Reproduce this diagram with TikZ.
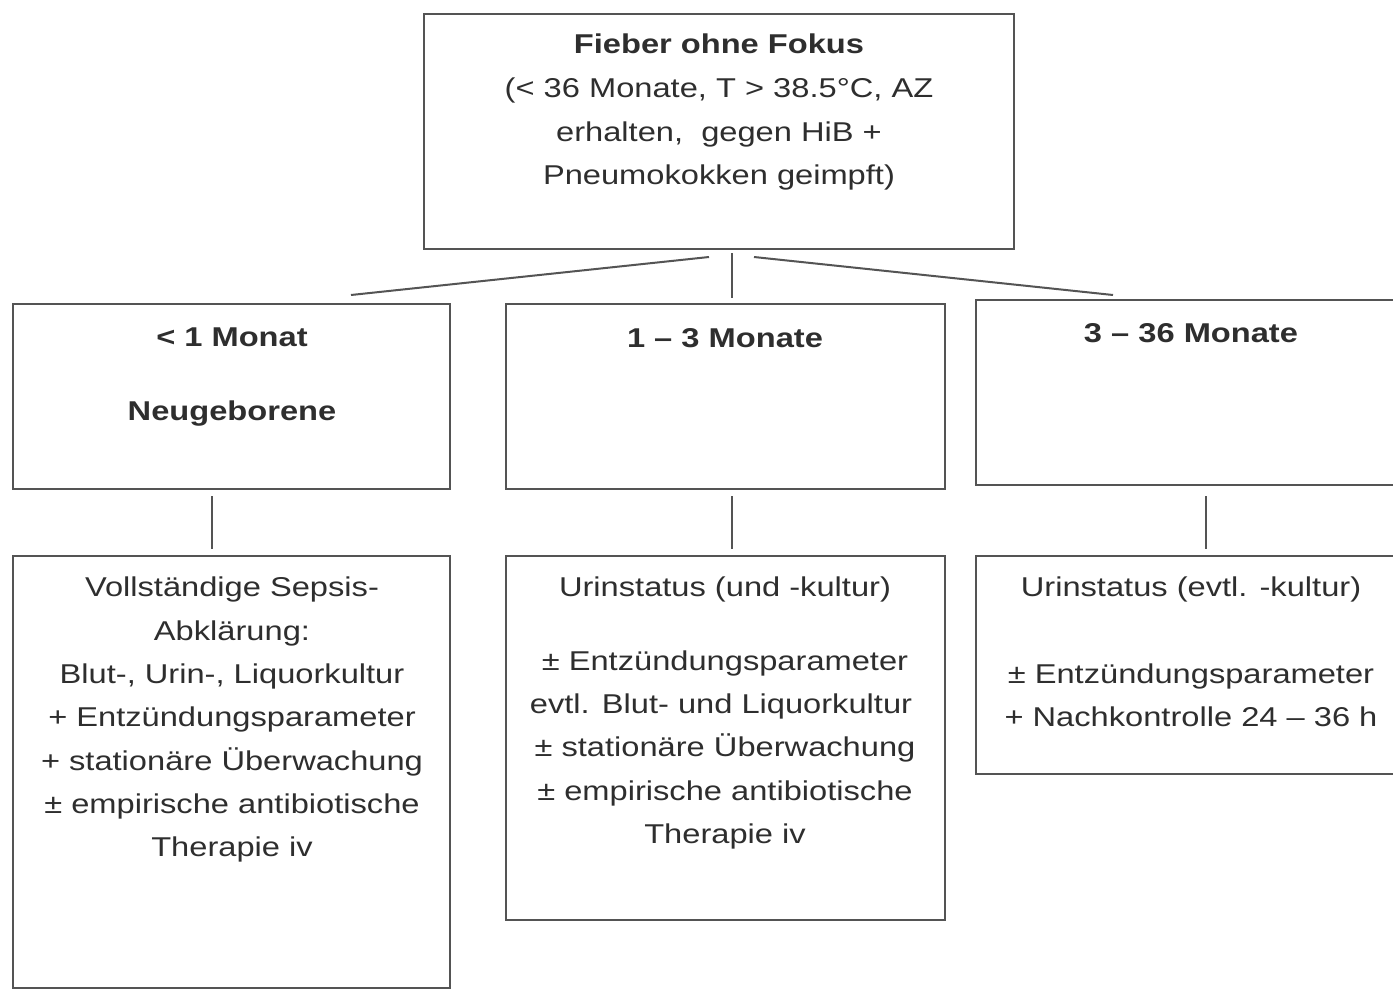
\documentclass[tikz,border=0pt]{standalone}
\usepackage{fontspec}
\setmainfont{Liberation Sans}[FakeStretch=1.2]
\definecolor{textc}{gray}{0.18}
\definecolor{linec}{gray}{0.33}
\newcommand{\fs}{\fontsize{13.6pt}{21.67pt}\selectfont}
\begin{document}
\begin{tikzpicture}[x=0.5pt,y=-0.5pt,
  box/.style={draw=linec, line width=1pt, inner sep=0pt, fill=none},
  conn/.style={draw=linec, line width=1pt},
  txt/.style={text=textc, inner sep=0pt, anchor=base, font=\fs},
  ttl/.style={txt, font=\fs\bfseries}]
\useasboundingbox[fill=white] (0,0) rectangle (1393,1001);

% boxes
\node[box, minimum width=295pt, minimum height=117.5pt] (top) at (719,131.5) {};
\node[box, minimum width=218.5pt, minimum height=92.5pt] (ba) at (231.5,396.5) {};
\node[box, minimum width=219.5pt, minimum height=92.5pt] (bb) at (725.5,396.5) {};
\node[box, minimum width=215pt, minimum height=92.5pt] (bc) at (1191,392.5) {};
\node[box, minimum width=218.5pt, minimum height=216pt] (bd) at (231.5,772) {};
\node[box, minimum width=219.5pt, minimum height=182pt] (be) at (725.5,738) {};
\node[box, minimum width=215pt, minimum height=109pt] (bf) at (1191,665) {};

% connector ends
\coordinate (l1) at (709,257);
\coordinate (l2) at (351,295);
\coordinate (m1) at (732,253);
\coordinate (m2) at (732,298);
\coordinate (r1) at (754,257);
\coordinate (r2) at (1113,295);
\coordinate (a1) at (212,496);
\coordinate (a2) at (212,549);
\coordinate (b1) at (732,496);
\coordinate (b2) at (732,549);
\coordinate (c1) at (1206,496);
\coordinate (c2) at (1206,549);

\draw[conn] (l1) -- (l2);
\draw[conn] (m1) -- (m2);
\draw[conn] (r1) -- (r2);
\draw[conn] (a1) -- (a2);
\draw[conn] (b1) -- (b2);
\draw[conn] (c1) -- (c2);

% top text
\node[ttl] (t1) at (719,54) {Fieber ohne Fokus};
\node[txt] (t2) at (719,97.5) {(< 36 Monate, T > 38.5°C, AZ};
\node[txt] (t3) at (719,141) {erhalten,\ \ gegen HiB +};
\node[txt] (t4) at (719,184.5) {Pneumokokken geimpft)};

% titles
\node[ttl] (ta1) at (232,346) {< 1 Monat};
\node[ttl] (ta2) at (232,420.5) {Neugeborene};
\node[ttl] (tb1) at (725,347.5) {1 – 3 Monate};
\node[ttl] (tc1) at (1191,342) {3 – 36 Monate};

% box D
\node[txt] (d1) at (232,596.5) {Vollständige Sepsis-};
\node[txt] (d2) at (232,640) {Abklärung:};
\node[txt] (d3) at (232,683.3) {Blut-, Urin-, Liquorkultur};
\node[txt] (d4) at (232,726.7) {+ Entzündungsparameter};
\node[txt] (d5) at (232,770) {+ stationäre Überwachung};
\node[txt] (d6) at (232,813.3) {± empirische antibiotische};
\node[txt] (d7) at (232,856.7) {Therapie iv};

% box E
\node[txt] (e1) at (725,596) {Urinstatus (und -kultur)};
\node[txt] (e2) at (725,670) {± Entzündungsparameter};
\node[txt] (e3) at (721,713.3) {evtl. Blut- und Liquorkultur};
\node[txt] (e4) at (725,756.7) {± stationäre Überwachung};
\node[txt] (e5) at (725,800) {± empirische antibiotische};
\node[txt] (e6) at (725,843.3) {Therapie iv};

% box F
\node[txt] (f1) at (1191,596.5) {Urinstatus (evtl. -kultur)};
\node[txt] (f2) at (1191,683.3) {± Entzündungsparameter};
\node[txt] (f3) at (1191,726.7) {+ Nachkontrolle 24 – 36 h};
\end{tikzpicture}
\end{document}
